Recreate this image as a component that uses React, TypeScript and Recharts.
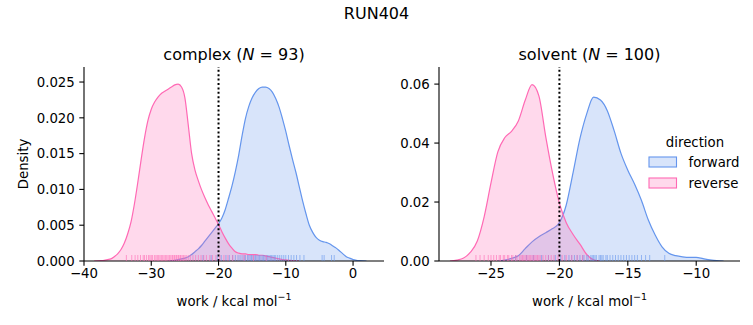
import React from 'react';
import { ComposedChart, Area, Scatter, XAxis, YAxis, ReferenceLine } from 'recharts';

const FWD = '#6495ED';
const REV = '#FF69B4';
const FONT = '"DejaVu Sans", sans-serif';

// ---- complex panel ----
const complexGrid = [
  -38.5, -38, -37.5, -37, -36.5, -36, -35.5, -35, -34.5, -34, -33.5, -33, -32.5, -32, -31.5, -31,
  -30.5, -30, -29.5, -29, -28.5, -28, -27.5, -27, -26.5, -26, -25.5, -25, -24.5, -24, -23.5, -23,
  -22.5, -22, -21.5, -21, -20.5, -20, -19.5, -19, -18.5, -18, -17.5, -17, -16.5, -16, -15.5, -15,
  -14.5, -14, -13.5, -13, -12.5, -12, -11.5, -11, -10.5, -10, -9.5, -9, -8.5, -8, -7.5, -7,
  -6.5, -6, -5.5, -5, -4.5, -4, -3.5, -3, -2.5, -2, -1.5, -1, -0.5, 0, 0.5, 1, 1.5, 2,
];
const complexReverse = [
  0, 0.00002, 0.00005, 0.0001, 0.0002, 0.0003, 0.0006, 0.001, 0.0016, 0.0025, 0.0038, 0.0055,
  0.008, 0.011, 0.0142, 0.0172, 0.0196, 0.0212, 0.0222, 0.0229, 0.0234, 0.0237, 0.024, 0.0243,
  0.0246, 0.0247, 0.0243, 0.0228, 0.019, 0.015, 0.0127, 0.0112, 0.0099, 0.0088, 0.0078, 0.0069,
  0.006, 0.0051, 0.0041, 0.0032, 0.0024, 0.0018, 0.0013, 0.0011, 0.001, 0.001, 0.0009, 0.0009,
  0.0009, 0.0008, 0.0008, 0.0007, 0.0006, 0.0005, 0.0004, 0.0003, 0.0002, 0.00015, 0.0001, 0.00005,
  0.00002, 0,
  null, null, null, null, null, null, null, null, null, null, null, null, null, null, null, null, null, null, null, null,
];
const complexForward = [
  null, null, null, null, null, null, null, null, null, null, null, null, null, null, null, null, null, null, null, null, null, null,
  0, 0.00005, 0.0001, 0.0002, 0.0003, 0.0004, 0.0006, 0.0009, 0.0013, 0.0017, 0.0022, 0.0028,
  0.0034, 0.004, 0.0046, 0.0052, 0.006, 0.0072, 0.0088, 0.0105, 0.0125, 0.0148, 0.0175, 0.0199,
  0.0216, 0.0228, 0.0236, 0.0241, 0.0243, 0.0243, 0.0241, 0.0236, 0.0227, 0.0215, 0.0199, 0.0181,
  0.0161, 0.0142, 0.0124, 0.0104, 0.0084, 0.0066, 0.005, 0.004, 0.0033, 0.0029, 0.0027, 0.0026,
  0.0024, 0.0021, 0.0018, 0.0014, 0.001, 0.0006, 0.0004, 0.0002, 0.0001, 0.00005, 0.00002, 0,
];
const complexReverseRug = [
  -33.7, -32.9, -32.4, -32.0, -31.6, -31.2, -31.0, -30.7, -30.4, -30.2, -30.0, -29.8, -29.5, -29.3,
  -29.1, -28.9, -28.7, -28.5, -28.3, -28.1, -27.9, -27.7, -27.5, -27.3, -27.1, -26.9, -26.8, -26.6,
  -26.5, -26.3, -26.2, -26.0, -25.9, -25.7, -25.6, -25.4, -25.2, -25.0, -24.8, -24.5, -24.2, -23.8,
  -23.4, -23.0, -22.6, -22.2, -21.8, -21.3, -20.9, -20.4, -19.8, -19.2, -18.6, -17.9, -16.2, -14.8, -12.9,
];
const complexForwardRug = [
  -22.3, -21.1, -20.2, -19.6, -18.9, -18.4, -17.9, -17.5, -17.1, -16.8, -16.5, -16.2, -16.0, -15.7,
  -15.5, -15.3, -15.1, -14.9, -14.7, -14.5, -14.3, -14.1, -13.9, -13.7, -13.5, -13.3, -13.1, -12.9,
  -12.7, -12.5, -12.3, -12.1, -11.9, -11.7, -11.5, -11.2, -10.9, -10.6, -10.3, -10.0, -9.6, -9.2,
  -8.8, -8.4, -7.9, -7.3, -4.6, -4.3, -3.2, -2.8,
];
const complexXTicks = [-40, -30, -20, -10, 0];
const complexYTicks = [0, 0.005, 0.01, 0.015, 0.02, 0.025];

// ---- solvent panel ----
const solventGrid = [
  -28, -27.5, -27, -26.5, -26, -25.5, -25, -24.5, -24, -23.5, -23, -22.5, -22, -21.5, -21, -20.5,
  -20, -19.5, -19, -18.5, -18, -17.5, -17, -16.5, -16, -15.5, -15, -14.5, -14, -13.5, -13, -12.5,
  -12, -11.5, -11, -10.5, -10, -9.5, -9, -8.5, -8,
];
const solventReverse = [
  0, 0.0003, 0.001, 0.003, 0.0068, 0.015, 0.0265, 0.037, 0.0418, 0.044, 0.0475, 0.0545, 0.0598,
  0.056, 0.0422, 0.0298, 0.0196, 0.013, 0.009, 0.0057, 0.0022, 0.0004, 0,
  null, null, null, null, null, null, null, null, null, null, null, null, null, null, null, null, null, null,
];
const solventForward = [
  null, null, null, null, null, null, null,
  0, 0.0003, 0.0009, 0.0018, 0.0042, 0.0065, 0.0082, 0.0096, 0.011, 0.013, 0.019, 0.03, 0.0415,
  0.05, 0.0556, 0.0546, 0.051, 0.0442, 0.0365, 0.0308, 0.026, 0.0205, 0.0139, 0.0088, 0.0048,
  0.0026, 0.0018, 0.0014, 0.0012, 0.0012, 0.0008, 0.0004, 0.0001, 0,
];
const solventReverseRug = [
  -26.1, -25.8, -25.5, -25.2, -25.0, -24.8, -24.6, -24.4, -24.3, -24.1, -24.0, -23.8, -23.7, -23.5,
  -23.4, -23.2, -23.1, -22.9, -22.8, -22.7, -22.6, -22.5, -22.4, -22.3, -22.2, -22.1, -22.0, -21.9,
  -21.8, -21.7, -21.6, -21.5, -21.4, -21.2, -21.0, -20.8, -20.6, -20.4, -20.1, -19.8, -19.5, -19.1,
  -18.7, -18.3,
];
const solventForwardRug = [
  -23.2, -22.4, -21.9, -21.3, -20.8, -20.3, -19.9, -19.6, -19.3, -19.1, -18.9, -18.7, -18.5, -18.3,
  -18.2, -18.0, -17.9, -17.7, -17.6, -17.5, -17.4, -17.3, -17.1, -17.0, -16.9, -16.8, -16.6, -16.5,
  -16.3, -16.1, -15.9, -15.7, -15.5, -15.3, -15.1, -14.9, -14.7, -14.5, -14.3, -14.0, -13.7, -13.4, -12.3,
];
const solventXTicks = [-25, -20, -15, -10];
const solventYTicks = [0, 0.02, 0.04, 0.06];

const buildCurve = (grid: number[], fwd: (number | null)[], rev: (number | null)[]) =>
  grid.map((x, i) => ({ x, fwd: fwd[i], rev: rev[i] }));
const buildRug = (vals: number[]) => vals.map((x) => ({ x, y: 0 }));

const fmtX = (v: number) => (v < 0 ? '\u2212' + Math.abs(v) : String(v));

const makeRug = (color: string) => (props: any) => {
  const { cx, cy } = props;
  if (cx == null || cy == null) return <g />;
  return <line x1={cx} x2={cx} y1={cy} y2={cy - 6} stroke={color} strokeOpacity={0.6} strokeWidth={1} />;
};

const tickStyle = { fill: '#000', fontSize: 13.3, fontFamily: FONT };

const XLabel = (props: any) => {
  const vb = props.viewBox || {};
  const cx = vb.x + vb.width / 2;
  return (
    <text x={cx} y={vb.y + 45} textAnchor="middle" fontSize={13.3} fontFamily={FONT} fill="#000">
      work / kcal mol
      <tspan fontSize={9.5} dy={-6}>{'\u2212'}1</tspan>
    </text>
  );
};

const YLabel = (props: any) => {
  const vb = props.viewBox || {};
  const cy = vb.y + vb.height / 2;
  return (
    <text x={28} y={cy} transform={`rotate(-90, 28, ${cy})`} textAnchor="middle" fontSize={13.3} fontFamily={FONT} fill="#000">
      Density
    </text>
  );
};

type PanelProps = {
  left: number;
  width: number;
  yAxisWidth: number;
  rightMargin: number;
  data: any[];
  fwdRug: any[];
  revRug: any[];
  xDomain: [number, number];
  yDomain: [number, number];
  xTicks: number[];
  yTicks: number[];
  yDigits: number;
  showYLabel: boolean;
};

const Panel = (p: PanelProps) => (
  <div style={{ position: 'absolute', left: p.left, top: 0 }}>
    <ComposedChart
      width={p.width}
      height={325}
      data={p.data}
      margin={{ top: 67, right: p.rightMargin, bottom: 0, left: 0 }}
    >
      <XAxis
        dataKey="x"
        type="number"
        domain={p.xDomain}
        allowDataOverflow
        ticks={p.xTicks}
        tickFormatter={fmtX}
        height={64}
        tick={tickStyle}
        tickSize={4.7}
        tickMargin={3}
        stroke="#000"
        axisLine={{ stroke: '#000', strokeWidth: 1.1 }}
        tickLine={{ stroke: '#000', strokeWidth: 1.1 }}
        label={<XLabel />}
      />
      <YAxis
        type="number"
        domain={p.yDomain}
        allowDataOverflow
        ticks={p.yTicks}
        tickFormatter={(v: number) => v.toFixed(p.yDigits)}
        width={p.yAxisWidth}
        tick={tickStyle}
        tickSize={4.7}
        tickMargin={4.5}
        stroke="#000"
        axisLine={{ stroke: '#000', strokeWidth: 1.1 }}
        tickLine={{ stroke: '#000', strokeWidth: 1.1 }}
        label={p.showYLabel ? <YLabel /> : undefined}
      />
      <Area
        type="monotone"
        dataKey="fwd"
        stroke={FWD}
        strokeWidth={1.2}
        fill={FWD}
        fillOpacity={0.25}
        isAnimationActive={false}
        dot={false}
        activeDot={false}
      />
      <Area
        type="monotone"
        dataKey="rev"
        stroke={REV}
        strokeWidth={1.2}
        fill={REV}
        fillOpacity={0.25}
        isAnimationActive={false}
        dot={false}
        activeDot={false}
      />
      <Scatter data={p.fwdRug} dataKey="y" shape={makeRug(FWD)} isAnimationActive={false} />
      <Scatter data={p.revRug} dataKey="y" shape={makeRug(REV)} isAnimationActive={false} />
      <ReferenceLine x={-20} stroke="#000" strokeWidth={2} strokeDasharray="2 2.4" />
    </ComposedChart>
  </div>
);

export default function App() {
  return (
    <div style={{ position: 'absolute', left: 0, top: 0, width: 753, height: 325, background: '#fff' }}>
      <Panel
        left={0}
        width={390}
        yAxisWidth={84}
        rightMargin={6}
        data={buildCurve(complexGrid, complexForward, complexReverse)}
        fwdRug={buildRug(complexForwardRug)}
        revRug={buildRug(complexReverseRug)}
        xDomain={[-40, 4.6]}
        yDomain={[0, 0.0271]}
        xTicks={complexXTicks}
        yTicks={complexYTicks}
        yDigits={3}
        showYLabel
      />
      <Panel
        left={390}
        width={363}
        yAxisWidth={49}
        rightMargin={13}
        data={buildCurve(solventGrid, solventForward, solventReverse)}
        fwdRug={buildRug(solventForwardRug)}
        revRug={buildRug(solventReverseRug)}
        xDomain={[-28.8, -6.8]}
        yDomain={[0, 0.0658]}
        xTicks={solventXTicks}
        yTicks={solventYTicks}
        yDigits={2}
        showYLabel={false}
      />
      <svg width={753} height={325} style={{ position: 'absolute', left: 0, top: 0, pointerEvents: 'none' }}>
        <text x={376.5} y={18.5} textAnchor="middle" fontSize={16} fontFamily={FONT} fill="#000">RUN404</text>
        <text x={234} y={59.5} textAnchor="middle" fontSize={16} fontFamily={FONT} fill="#000">
          complex (<tspan fontStyle="italic">N</tspan> = 93)
        </text>
        <text x={589.5} y={59.5} textAnchor="middle" fontSize={16} fontFamily={FONT} fill="#000">
          solvent (<tspan fontStyle="italic">N</tspan> = 100)
        </text>
        <text x={695} y={147} textAnchor="middle" fontSize={13.3} fontFamily={FONT} fill="#000">direction</text>
        <rect x={649} y={157} width={27.5} height={10} fill={FWD} fillOpacity={0.25} stroke={FWD} strokeWidth={1.1} />
        <text x={688.5} y={167} fontSize={13.3} fontFamily={FONT} fill="#000">forward</text>
        <rect x={649} y={178} width={27.5} height={10} fill={REV} fillOpacity={0.25} stroke={REV} strokeWidth={1.1} />
        <text x={688.5} y={188} fontSize={13.3} fontFamily={FONT} fill="#000">reverse</text>
      </svg>
    </div>
  );
}
